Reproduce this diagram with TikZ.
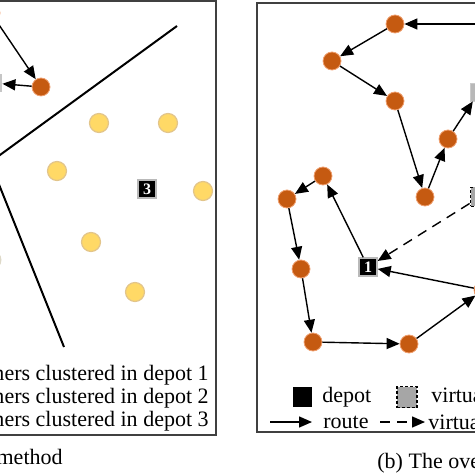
\documentclass[tikz,border=0pt]{standalone}
\usepackage{fontspec}
\setmainfont{Liberation Serif}
\usetikzlibrary{arrows.meta, positioning}
\definecolor{corange}{HTML}{C55A11}
\definecolor{cedge}{HTML}{F0A070}
\definecolor{cyellow}{HTML}{FFD966}
\definecolor{cyedge}{HTML}{E2C58B}
\definecolor{cvgray}{HTML}{A6A6A6}
\definecolor{cframe}{HTML}{404040}

\begin{document}
\begin{tikzpicture}[x=0.5pt, y=-0.5pt,
  font=\fontsize{11}{11.5}\selectfont,
  cust/.style={circle, fill=corange, draw=cedge, line width=0.4pt, minimum size=9pt, inner sep=0pt},
  clus/.style={circle, fill=cyellow, draw=cyedge, line width=0.6pt, minimum size=9.5pt, inner sep=0pt},
  depotbox/.style={rectangle, fill=black, draw=gray!55, line width=0.9pt, minimum size=8.8pt, inner sep=0pt, text=white, font=\fontsize{8}{8}\selectfont\bfseries},
  vdepot/.style={rectangle, fill=cvgray, draw=black, dash pattern=on 1.5pt off 1pt, line width=0.9pt, minimum size=9.5pt, inner sep=0pt},
  route/.style={-{Triangle[length=6.5pt,width=5.5pt]}, line width=0.7pt},
  vroute/.style={route, dash pattern=on 5pt off 3.5pt},
  txt/.style={inner sep=0pt}]
  \useasboundingbox (0,0) rectangle (474,474);

  % frames of both panels
  \draw[cframe, line width=0.6pt] (-20,1) rectangle (216,435);
  \draw[cframe, line width=0.6pt] (257,3) rectangle (520,432);

  % (a) clustering
  \draw[line width=1pt] (177,26) -- (-5,158.6);
  \draw[line width=1pt] (-3,179.5) -- (64,347);
  \node[cust] (lA) at (-9,13) {};
  \node[cust] (lB) at (41,87) {};
  \node[rectangle, fill=gray!45, minimum size=9pt, inner sep=0pt] (lDepot) at (-7,83) {};
  \draw[route] (lA) -- (lB);
  \draw[route] (lB) -- (lDepot);
  \node[clus, fill=cyellow!35!gray!40, draw=none] (lC) at (-8,260) {};
  \foreach \n/\x/\y in {y1/99/123, y2/168/123, y3/57/171, y4/203/191, y5/91/242, y6/135/292}
    \node[clus] (\n) at (\x,\y) {};
  \node[depotbox] (lDepotC) at (147,189) {3};
  \foreach \k/\y in {1/375, 2/398, 3/421}
    \node[txt, anchor=east] (leg\k) at (209,\y) {customers clustered in depot \k};
  \node[txt, anchor=east] (capA) at (63,459) {(a) The clustering method};

  % (b) overall routes
  \node[cust] (pR) at (492,24) {};
  \node[cust] (cA) at (395,24) {};
  \node[cust] (cB) at (332,61) {};
  \node[cust] (cC) at (395,101) {};
  \node[cust] (cD) at (425,197) {};
  \node[cust] (cE) at (448,139) {};
  \node[rectangle, fill=cvgray!80, draw=cvgray!60, minimum size=9pt, inner sep=0pt] (vTop) at (479,92) {};
  \node[cust] (cF) at (323,176) {};
  \node[cust] (cG) at (287,199) {};
  \node[cust] (cH) at (301,269) {};
  \node[cust] (cI) at (313,342) {};
  \node[cust] (cJ) at (409,344) {};
  \node[cust] (cK) at (483,290) {};
  \node[depotbox] (dOne) at (368,267) {1};
  \node[vdepot] (vMid) at (480,197) {};

  \foreach \a/\b in {pR/cA, cA/cB, cB/cC, cC/cD, cD/cE, cE/vTop, dOne/cF, cF/cG, cG/cH, cH/cI, cI/cJ, cJ/cK, cK/dOne}
    \draw[route] (\a) -- (\b);
  \draw[vroute] (vMid) -- (dOne);

  % legend
  \node[rectangle, fill=black, minimum width=9.5pt, minimum height=10pt, inner sep=0pt] (lgDepot) at (302,397) {};
  \node[txt, anchor=west] (lgDepotT) at (322,397) {depot};
  \node[vdepot, minimum width=10pt, minimum height=10.5pt] (lgVirt) at (407,397) {};
  \node[txt, anchor=west] (lgVirtT) at (431,397) {virtual depot};
  \coordinate (rS) at (270,422);
  \coordinate (rE) at (312,422);
  \node[txt, anchor=west] (lgRouteT) at (323,422) {route};
  \draw[route] (rS) -- (rE);
  \coordinate (vS) at (380,422);
  \coordinate (vE) at (425,422);
  \node[txt, anchor=west] (lgVRouteT) at (428,422) {virtual route};
  \draw[vroute] (vS) -- (vE);

  \node[txt, anchor=west] (capB) at (377,463) {(b) The overall routes};
\end{tikzpicture}
\end{document}
